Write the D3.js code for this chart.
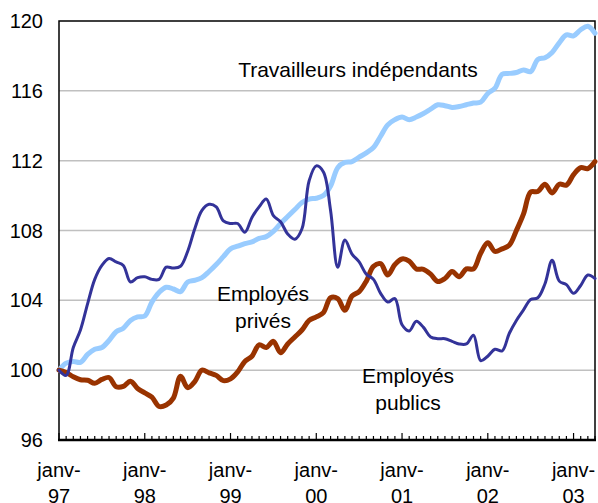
<!DOCTYPE html>
<html>
<head>
<meta charset="utf-8">
<script src="https://cdn.jsdelivr.net/npm/d3@7"></script>
<style>
  html, body { margin: 0; padding: 0; background: #fff; }
  svg { display: block; font-family: "Liberation Sans", Arial, sans-serif; }
</style>
</head>
<body>
<div id="chart"></div>
<script>
// monthly index, janv-97 = 100, up to avr-03
const yearLabels = ['97', '98', '99', '00', '01', '02', '03'];
const yTicks = [96, 100, 104, 108, 112, 116, 120];

const independants = [
  100.0, 100.4, 100.5, 100.45, 100.9, 101.2, 101.3, 101.7, 102.2, 102.4, 102.85, 103.05,
  103.1, 103.9, 104.45, 104.75, 104.65, 104.5, 105.05, 105.15, 105.3, 105.65, 106.05, 106.5,
  106.95, 107.1, 107.25, 107.35, 107.55, 107.65, 107.95, 108.4, 108.8, 109.2, 109.6, 109.8,
  109.85, 110.0, 110.55, 111.6, 111.9, 111.95, 112.2, 112.45, 112.75, 113.4, 114.05, 114.35,
  114.5, 114.35, 114.5, 114.7, 114.95, 115.2, 115.15, 115.05, 115.1, 115.2, 115.3, 115.35,
  115.85, 116.15, 116.95, 117.0, 117.05, 117.2, 117.1, 117.8, 117.9, 118.2, 118.75, 119.2,
  119.15, 119.5, 119.7, 119.3
];

const prives = [
  100.0, 99.87, 99.62, 99.45, 99.42, 99.25, 99.47, 99.58, 99.05, 99.07, 99.37, 98.95,
  98.7, 98.45, 97.92, 98.0, 98.4, 99.65, 99.0, 99.35, 100.0, 99.85, 99.7, 99.4,
  99.5, 99.9, 100.5, 100.8, 101.45, 101.3, 101.65, 101.0, 101.5, 101.9, 102.3, 102.85,
  103.05, 103.3, 104.15, 104.1, 103.43, 104.25, 104.5, 105.1, 105.95, 106.1, 105.45, 106.05,
  106.37, 106.25, 105.8, 105.78, 105.5, 105.08, 105.25, 105.65, 105.35, 105.8, 105.8, 106.7,
  107.3, 106.8, 106.95, 107.15, 108.0, 108.95, 110.2, 110.23, 110.65, 110.15, 110.65, 110.6,
  111.2, 111.6, 111.55, 111.95
];

const publics = [
  100.0, 99.7, 101.3, 102.3, 103.8, 105.2, 106.0, 106.4, 106.2, 106.0, 105.05, 105.3,
  105.35, 105.2, 105.2, 105.9, 105.85, 105.95, 106.8, 108.1, 109.15, 109.5, 109.35, 108.55,
  108.4, 108.4, 107.9, 108.75, 109.35, 109.8, 108.85, 108.5, 107.8, 107.5, 108.1, 110.85,
  111.7, 111.35, 109.15, 105.9, 107.45, 106.65, 106.2, 105.5, 105.2, 104.4, 103.9, 104.1,
  102.6, 102.25, 102.8, 102.45, 101.9, 101.8, 101.8, 101.65, 101.5, 101.5, 102.0, 100.55,
  100.8, 101.2, 101.1, 102.1, 102.85, 103.45, 104.05, 104.15, 104.95, 106.3, 105.1, 104.9,
  104.4, 104.85, 105.45, 105.25
];

const series = [
  { name: 'Travailleurs indépendants', values: independants, color: '#99ccff', width: 5 },
  { name: 'Employés privés', values: prives, color: '#993300', width: 5 },
  { name: 'Employés publics', values: publics, color: '#333399', width: 3 }
];

const width = 598, height = 503;
const margin = { left: 59, right: 3, top: 21, bottom: 63 };
const svg = d3.select('#chart').append('svg').attr('width', width).attr('height', height);

const n = independants.length;
const x = d3.scaleLinear().domain([0, n - 1]).range([margin.left, width - margin.right]);
const y = d3.scaleLinear().domain([96, 120]).range([height - margin.bottom, margin.top]);

// gridlines
svg.append('g').selectAll('line')
  .data(yTicks.filter(d => d > 96 && d < 120)).join('line')
  .attr('x1', x(0)).attr('x2', x(n - 1))
  .attr('y1', d => y(d)).attr('y2', d => y(d))
  .attr('stroke', '#c0c0c0').attr('stroke-width', 1.5);

// plot border
svg.append('rect')
  .attr('x', x(0)).attr('y', y(120))
  .attr('width', x(n - 1) - x(0)).attr('height', y(96) - y(120))
  .attr('fill', 'none').attr('stroke', '#000').attr('stroke-width', 1.5);

// y labels
svg.append('g').selectAll('text')
  .data(yTicks).join('text')
  .attr('x', 43).attr('y', d => y(d) + 7)
  .attr('text-anchor', 'end').attr('font-size', 20)
  .text(d => d);

// x axis: monthly ticks pointing up, longer at january
const xAxis = svg.append('g');
xAxis.selectAll('line.tick')
  .data(d3.range(n)).join('line').attr('class', 'tick')
  .attr('x1', d => x(d)).attr('x2', d => x(d))
  .attr('y1', y(96)).attr('y2', d => y(96) - (d % 12 === 0 ? 7 : 4))
  .attr('stroke', '#000').attr('stroke-width', 1.2);
xAxis.append('line')
  .attr('x1', x(0) - 1).attr('x2', x(n - 1) + 1)
  .attr('y1', y(96)).attr('y2', y(96))
  .attr('stroke', '#000').attr('stroke-width', 2.5);

// year labels on two lines, second line runs off the bottom like the original
const xl = xAxis.selectAll('text.xl')
  .data(yearLabels).join('text').attr('class', 'xl')
  .attr('text-anchor', 'middle').attr('font-size', 20)
  .attr('transform', (d, i) => `translate(${x(i * 12)},0)`);
xl.append('tspan').attr('x', 0).attr('y', 477).text('janv-');
xl.append('tspan').attr('x', 0).attr('y', 503).text(d => d);

// lines (smoothed, as in the source chart)
const line = d3.line().x((d, i) => x(i)).y(d => y(d)).curve(d3.curveCatmullRom.alpha(0.5));
svg.append('g').selectAll('path')
  .data(series).join('path')
  .attr('d', d => line(d.values))
  .attr('fill', 'none')
  .attr('stroke', d => d.color)
  .attr('stroke-width', d => d.width)
  .attr('stroke-linejoin', 'round')
  .attr('stroke-linecap', 'round');

// labels on the chart
const notes = [
  { lines: ['Travailleurs indépendants'], x: 358, y: 77 },
  { lines: ['Employés', 'privés'], x: 263, y: 301 },
  { lines: ['Employés', 'publics'], x: 408, y: 383 }
];
const nt = svg.append('g').selectAll('text')
  .data(notes).join('text')
  .attr('text-anchor', 'middle').attr('font-size', 21);
nt.selectAll('tspan')
  .data(d => d.lines.map((t, k) => ({ t, x: d.x, y: d.y + k * 27 }))).join('tspan')
  .attr('x', d => d.x).attr('y', d => d.y).text(d => d.t);
</script>
</body>
</html>
